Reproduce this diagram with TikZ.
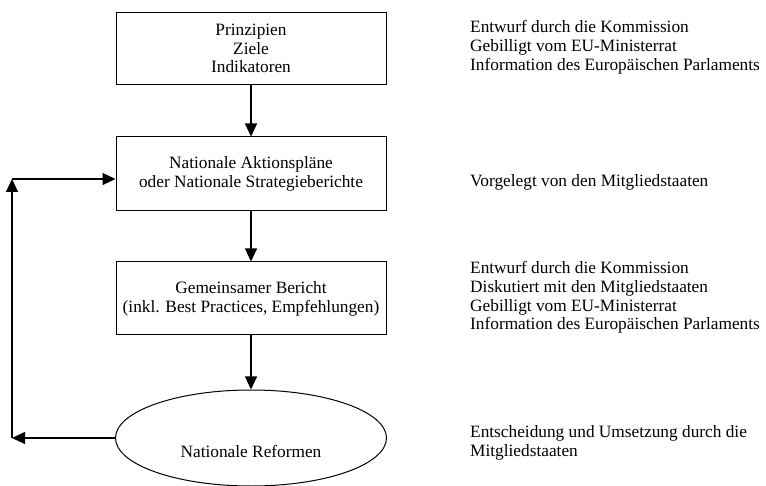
\documentclass[tikz,border=0pt]{standalone}
\usepackage{fontspec}
\setmainfont{Liberation Serif}
\usepackage{tikz}
\usetikzlibrary{arrows.meta,shapes.geometric}
\tikzstyle{stage} = [rectangle, draw, line width=1pt, minimum width=270pt,
  align=center, inner sep=0pt]
\tikzstyle{note} = [anchor=west, align=left, inner sep=0pt]
\tikzstyle{flow} = [draw, line width=1.2pt, -{Triangle[length=13pt,width=12pt]}]

\begin{document}
\begin{tikzpicture}[x=1pt, y=-1pt,
    every node/.style={font=\fontsize{17.3}{18.8}\selectfont}]
  \useasboundingbox (0,0) rectangle (766,486);
  \node[stage, minimum height=72.5pt] (goals) at (251, 48.5)
    {Prinzipien\\Ziele\\Indikatoren};
  \node[stage, minimum height=74pt] (plans) at (251, 174)
    {Nationale Aktionspläne\\oder Nationale Strategieberichte};
  \node[stage, minimum height=73pt] (report) at (251, 298.5)
    {Gemeinsamer Bericht\\(inkl. Best Practices, Empfehlungen)};
  \node[ellipse, draw, line width=1pt, minimum width=271pt,
    minimum height=96pt, inner sep=0pt] (reform) at (251, 438) {};
  \node (reformtext) at (251, 451) {Nationale Reformen};

  \node[note] (goalsnote) at (470, 47.5)
    {Entwurf durch die Kommission\\Gebilligt vom EU-Ministerrat\\Information des Europäischen Parlaments};
  \node[note] (plansnote) at (470, 182) {Vorgelegt von den Mitgliedstaaten};
  \node[note] (reportnote) at (470, 297.5)
    {Entwurf durch die Kommission\\Diskutiert mit den Mitgliedstaaten\\Gebilligt vom EU-Ministerrat\\Information des Europäischen Parlaments};
  \node[note] (reformnote) at (470, 442.5)
    {Entscheidung und Umsetzung durch die\\Mitgliedstaaten};

  \coordinate (loopbottom) at (12, 438);
  \coordinate (looptop) at (12, 179);

  \path[flow] (goals) -- (plans);
  \path[flow] (plans) -- (report);
  \path[flow] (report) -- (reform);
  \path[flow] (reform.west) -- (loopbottom);
  \path[flow] (loopbottom) -- (looptop);
  \path[flow] (looptop) -- (looptop -| plans.west);
\end{tikzpicture}
\end{document}
